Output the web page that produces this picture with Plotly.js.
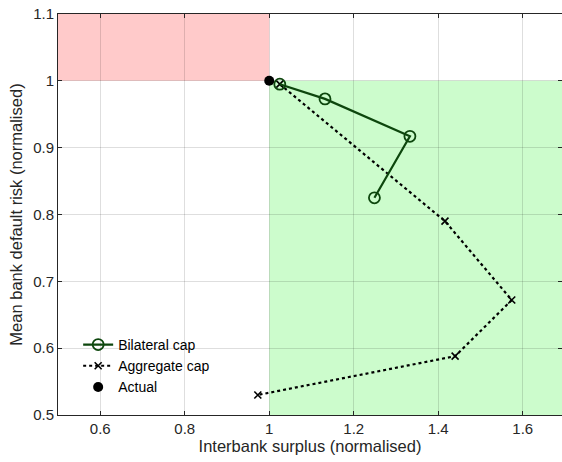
<!DOCTYPE html>
<html><head><meta charset="utf-8">
<script src="https://cdn.plot.ly/plotly-3.0.1.min.js"></script>
<style>body{margin:0;padding:0;}#chart{width:562px;height:462px;}</style>
</head><body><div id="chart"></div>
<script>
const bilateralX = [1.025, 1.132, 1.333, 1.249];
const bilateralY = [0.995, 0.973, 0.917, 0.825];
const aggregateX = [1.025, 1.416, 1.574, 1.440, 0.973];
const aggregateY = [0.995, 0.790, 0.672, 0.588, 0.530];
const actualX = [1.0];
const actualY = [1.0];
const xTicks = [0.6, 0.8, 1, 1.2, 1.4, 1.6];
const yTicks = [0.5, 0.6, 0.7, 0.8, 0.9, 1, 1.1];

const FONT = 'Liberation Sans, Arial, sans-serif';

const traces = [
  {x: aggregateX, y: aggregateY, name: 'Aggregate cap', legendrank: 2, mode: 'lines+markers', type: 'scatter',
   line: {color: '#000000', width: 2.2, dash: 'dot'},
   marker: {symbol: 'x-thin-open', size: 7, color: '#000000', line: {width: 1.6, color: '#000000'}}},
  {x: bilateralX, y: bilateralY, name: 'Bilateral cap', legendrank: 1, mode: 'lines+markers', type: 'scatter',
   line: {color: '#0d460d', width: 2.2},
   marker: {symbol: 'circle-open', size: 11, color: '#0d460d', line: {width: 1.8}}},
  {x: actualX, y: actualY, name: 'Actual', legendrank: 3, mode: 'markers', type: 'scatter',
   marker: {symbol: 'circle', size: 10, color: '#000000'}}
];

const axisCommon = {
  showline: true, linecolor: '#262626', linewidth: 1, mirror: 'ticks',
  ticks: 'inside', ticklen: 4, tickcolor: '#262626',
  showgrid: true, gridcolor: 'rgba(0,0,0,0.13)', gridwidth: 1, zeroline: false,
  tickfont: {family: FONT, size: 15, color: '#262626'}
};

const layout = {
  width: 562, height: 462,
  margin: {l: 58, r: 0, t: 14, b: 47},
  paper_bgcolor: '#ffffff', plot_bgcolor: '#ffffff',
  showlegend: true,
  legend: {x: 0.04, y: 0.03, xanchor: 'left', yanchor: 'bottom', bgcolor: 'rgba(0,0,0,0)',
           font: {family: FONT, size: 14, color: '#000'},
           tracegroupgap: 0},
  xaxis: Object.assign({}, axisCommon, {range: [0.5, 1.693], tickvals: xTicks, ticktext: xTicks.map(String),
    title: {text: 'Interbank surplus (normalised)', font: {family: FONT, size: 16.5, color: '#262626'}, standoff: 4}}),
  yaxis: Object.assign({}, axisCommon, {range: [0.5, 1.1], tickvals: yTicks, ticktext: yTicks.map(String),
    title: {text: 'Mean bank default risk (normalised)', font: {family: FONT, size: 16.5, color: '#262626'}, standoff: 6}}),
  shapes: [
    {type: 'rect', xref: 'x', yref: 'y', x0: 0.5, x1: 1, y0: 1, y1: 1.1, fillcolor: '#ffcaca', line: {width: 0}, layer: 'below'},
    {type: 'rect', xref: 'x', yref: 'y', x0: 1, x1: 1.7, y0: 0.5, y1: 1, fillcolor: '#ccfccc', line: {width: 0}, layer: 'below'}
  ]
};

Plotly.newPlot('chart', traces, layout, {displayModeBar: false, staticPlot: true});
</script></body></html>
